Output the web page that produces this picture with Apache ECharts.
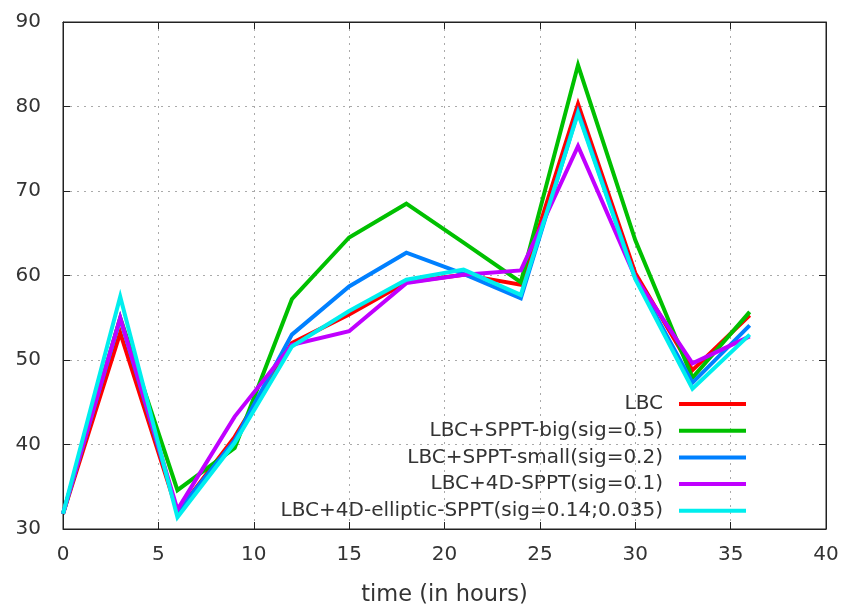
<!DOCTYPE html>
<html>
<head>
<meta charset="utf-8">
<script src="https://cdn.jsdelivr.net/npm/echarts@6/dist/echarts.min.js"></script>
<style>
  html, body { margin: 0; padding: 0; background: #fff; }
  #chart { width: 844px; height: 606px; }
</style>
</head>
<body>
<div id="chart"></div>
<script>
// Forecast time in hours
const hours = [0, 3, 6, 9, 12, 15, 18, 21, 24, 27, 30, 33, 36];

// Series values per experiment
const lbc          = [31.8, 53.2, 32.0, 40.9, 52.0, 55.4, 59.2, 60.1, 58.9, 80.3, 60.3, 48.8, 55.3];
const spptBig      = [31.8, 55.0, 34.6, 39.6, 57.2, 64.5, 68.5, 63.9, 59.2, 84.9, 64.2, 47.9, 55.7];
const spptSmall    = [31.8, 54.9, 32.0, 40.5, 53.0, 58.7, 62.7, 60.2, 57.3, 79.4, 59.7, 47.3, 54.1];
const sppt4d       = [31.8, 55.0, 32.3, 43.3, 51.8, 53.4, 59.1, 60.1, 60.6, 75.3, 59.8, 49.6, 52.8];
const spptElliptic = [31.8, 57.5, 31.4, 40.2, 51.6, 55.8, 59.5, 60.7, 57.7, 79.2, 59.6, 46.6, 53.0];

const seriesNames = [
  'LBC',
  'LBC+SPPT-big(sig=0.5)',
  'LBC+SPPT-small(sig=0.2)',
  'LBC+4D-SPPT(sig=0.1)',
  'LBC+4D-elliptic-SPPT(sig=0.14;0.035)'
];
const seriesData = [lbc, spptBig, spptSmall, sppt4d, spptElliptic];
const colors = ['#ff0000', '#00c000', '#0080ff', '#c000ff', '#00eeee'];

// Axis tick settings
const xMin = 0, xMax = 40, xStep = 5;
const yMin = 30, yMax = 90, yStep = 10;

const FONT = 'DejaVu Sans';
const textColor = '#333';

const chart = echarts.init(document.getElementById('chart'), null, { renderer: 'canvas' });

const gridLine = { show: true, lineStyle: { color: '#aaa', type: [2, 5], width: 1 } };
const frameLine = { show: true, onZero: false, lineStyle: { color: '#222', width: 1 } };
const tickIn = { show: true, inside: true, length: 7, lineStyle: { color: '#222' } };

// One legend block per series so the line samples line up on the right
const legends = seriesNames.map((name, i) => ({
  data: [name],
  right: 98,
  top: 394 + i * 26.7,
  align: 'right',
  icon: 'rect',
  itemWidth: 67,
  itemHeight: 4,
  padding: 0,
  selectedMode: false,
  textStyle: {
    fontFamily: FONT,
    fontSize: 20,
    color: textColor,
    padding: [0, 11, 0, 0]
  }
}));

chart.setOption({
  animation: false,
  backgroundColor: '#fff',
  color: colors,
  grid: {
    left: 63, right: 18, top: 22, bottom: 77,
    containLabel: false,
    outerBoundsMode: 'none',
    show: true, borderColor: '#222', borderWidth: 1, backgroundColor: 'transparent'
  },
  legend: legends,
  xAxis: [
    {
      type: 'value', min: xMin, max: xMax, interval: xStep,
      position: 'bottom',
      name: 'time (in hours)', nameLocation: 'middle', nameGap: 55,
      nameTextStyle: { fontFamily: FONT, fontSize: 22.5, color: textColor },
      axisLine: frameLine, axisTick: tickIn,
      axisLabel: { fontFamily: FONT, fontSize: 20, color: textColor, margin: 16 },
      splitLine: gridLine
    },
    {
      type: 'value', min: xMin, max: xMax, interval: xStep,
      position: 'top',
      axisLine: frameLine, axisTick: tickIn,
      axisLabel: { show: false }, splitLine: { show: false }
    }
  ],
  yAxis: [
    {
      type: 'value', min: yMin, max: yMax, interval: yStep,
      position: 'left',
      axisLine: frameLine, axisTick: tickIn,
      axisLabel: { fontFamily: FONT, fontSize: 20, color: textColor, margin: 22 },
      splitLine: gridLine
    },
    {
      type: 'value', min: yMin, max: yMax, interval: yStep,
      position: 'right',
      axisLine: frameLine, axisTick: tickIn,
      axisLabel: { show: false }, splitLine: { show: false }
    }
  ],
  series: seriesNames.map((name, i) => ({
    name: name,
    type: 'line',
    data: hours.map((h, j) => [h, seriesData[i][j]]),
    showSymbol: false,
    symbol: 'none',
    lineStyle: { width: 4, color: colors[i], join: 'miter' },
    itemStyle: { color: colors[i] },
    z: 2 + i
  }))
});
</script>
</body>
</html>
